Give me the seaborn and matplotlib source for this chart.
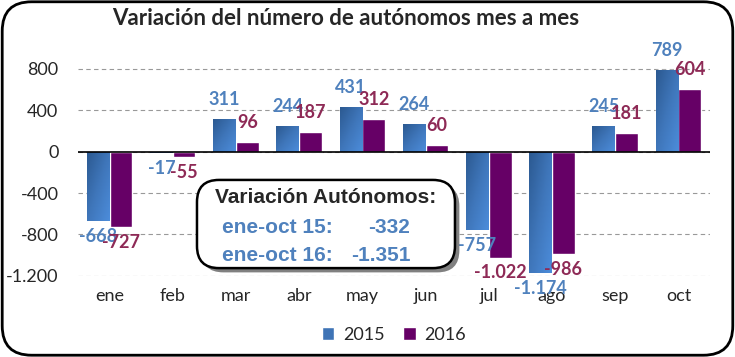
import matplotlib
matplotlib.use("Agg")
import matplotlib.pyplot as plt
from matplotlib.patches import FancyBboxPatch
from matplotlib.colors import LinearSegmentedColormap
from matplotlib.ticker import FuncFormatter
import numpy as np
import pandas as pd
import seaborn as sb

months = ["ene", "feb", "mar", "abr", "may", "jun", "jul", "ago", "sep", "oct"]
years = ["2015", "2016"]
var_2015 = [-668, -17, 311, 244, 431, 264, -757, -1174, 245, 789]
var_2016 = [-727, -55, 96, 187, 312, 60, -1022, -986, 181, 604]
box_rows = [("ene-oct 15:", "-332"), ("ene-oct 16:", "-1.351")]

bar_colors = ["#3F74B6", "#660066"]
label_colors = ["#4F81BD", "#8E2A56"]
blue_grad = LinearSegmentedColormap.from_list("bg", ["#2C5A92", "#3F76BA", "#4C8CDA"])


def es_num(v, pos=None):
    # spanish style thousands separator
    return f"{int(v):,}".replace(",", ".")


data = pd.DataFrame({
    "mes": months * 2,
    "año": [years[0]] * len(months) + [years[1]] * len(months),
    "valor": var_2015 + var_2016,
})

sb.set_style("white")
plt.rcParams["font.family"] = ["Lato", "DejaVu Sans"]

fig = plt.figure(figsize=(7.35, 3.57), dpi=100)
ax = fig.add_axes([0.106, 0.227, 0.86, 0.639])

sb.barplot(data=data, x="mes", y="valor", hue="año", palette=bar_colors,
           width=0.72, saturation=1, ax=ax, legend=True)

ax.set_ylim(-1200, 1000)
xlim = ax.get_xlim()
ax.set_yticks([-1200, -800, -400, 0, 400, 800])
ax.yaxis.set_major_formatter(FuncFormatter(es_num))
ax.yaxis.grid(True, linestyle=(0, (4, 3)), color="#999999", linewidth=0.8)
ax.set_axisbelow(True)
ax.axhline(0, color="black", linewidth=1.2, zorder=4)
for s in ax.spines.values():
    s.set_visible(False)
ax.set_xlabel("")
ax.set_ylabel("")
ax.tick_params(axis="y", labelsize=13, length=0, pad=14)
ax.tick_params(axis="x", labelsize=13, length=0, pad=9)

# diagonal gradient on the 2015 bars
grad = np.add.outer(np.linspace(0, 1, 20), np.linspace(0, 1, 20)) / 2
for bar in ax.containers[0]:
    x0, w = bar.get_x(), bar.get_width()
    h = bar.get_height()
    lo, hi = min(0, h), max(0, h)
    im = ax.imshow(grad, cmap=blue_grad, extent=(x0, x0 + w, lo, hi), origin="upper",
                   aspect="auto", zorder=bar.get_zorder() + 0.1)
    im.set_clip_path(bar)
ax.set_xlim(xlim)
ax.set_ylim(-1200, 1000)

# data labels
for cont, col in zip(ax.containers, label_colors):
    for bar in cont:
        h = bar.get_height()
        x = bar.get_x() + bar.get_width() / 2
        off = 14 if h >= 0 else -11
        ax.annotate(es_num(h), (x, h), xytext=(0, off), textcoords="offset points",
                    ha="center", va="center", fontsize=13, fontweight="bold", color=col,
                    zorder=8)

leg = ax.legend(loc="center", bbox_to_anchor=(0.5, -0.258), ncol=2, frameon=False,
                fontsize=13, handlelength=0.7, handleheight=0.7, columnspacing=1.0,
                handletextpad=0.5)

fig.text(0.47, 0.947, "Variación del número de autónomos mes a mes",
         ha="center", va="center", fontsize=16, fontweight="bold")

# summary box with shadow
bx, by, bw, bh = 0.268, 0.249, 0.351, 0.247
shadow = FancyBboxPatch((bx + 0.006, by - 0.012), bw, bh, boxstyle="round,pad=0,rounding_size=0.03",
                        transform=fig.transFigure, facecolor="#808080", edgecolor="none",
                        mutation_aspect=735 / 357, zorder=5)
box = FancyBboxPatch((bx, by), bw, bh, boxstyle="round,pad=0,rounding_size=0.03",
                     transform=fig.transFigure, facecolor="white", edgecolor="black",
                     linewidth=1.8, mutation_aspect=735 / 357, zorder=6)
fig.patches.extend([shadow, box])
box_font = ["Liberation Sans Narrow", "Liberation Sans", "DejaVu Sans"]
fig.text(bx + bw / 2, 0.448, "Variación Autónomos:", ha="center", va="center",
         fontsize=15, fontweight="bold", family=box_font, zorder=7)
for i, (lab, val) in enumerate(box_rows):
    y = 0.364 - i * 0.08
    fig.text(0.302, y, lab, ha="left", va="center", fontsize=15, fontweight="bold",
             color=label_colors[0], family=box_font, zorder=7)
    fig.text(0.558, y, val, ha="right", va="center", fontsize=15, fontweight="bold",
             color=label_colors[0], family=box_font, zorder=7)

# rounded frame round the whole chart
frame = FancyBboxPatch((0.003, 0.005), 0.994, 0.99, boxstyle="round,pad=0,rounding_size=0.04",
                       transform=fig.transFigure, facecolor="none", edgecolor="black",
                       linewidth=2, mutation_aspect=735 / 357, zorder=10)
fig.patches.append(frame)

fig.savefig("out.png", dpi=100)
